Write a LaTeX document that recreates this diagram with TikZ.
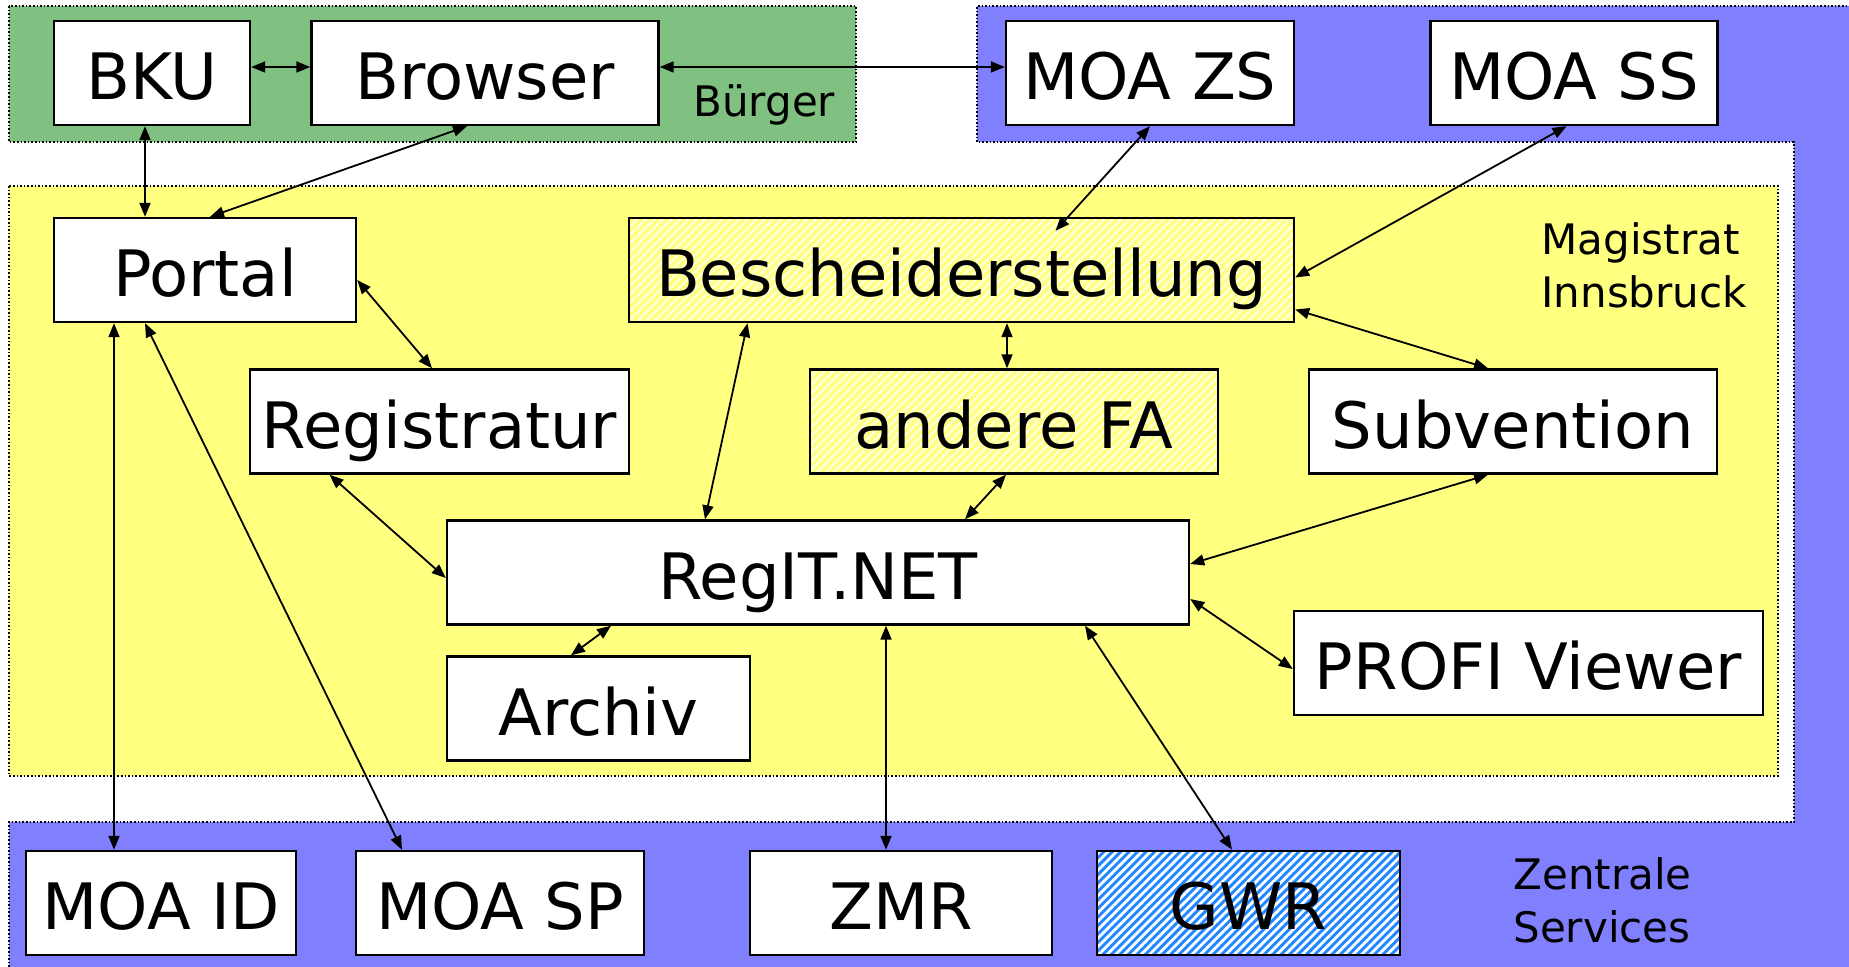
\documentclass[tikz,border=0pt]{standalone}
\usepackage{fontspec}
\setmainfont{DejaVu Sans}
\usetikzlibrary{arrows.meta,patterns.meta,calc}
\definecolor{gruen}{HTML}{80C080}
\definecolor{blau}{HTML}{8080FF}
\definecolor{gelb}{HTML}{FFFF80}
\definecolor{gwrblau}{HTML}{2288FF}
\definecolor{hellgelb}{HTML}{FFFFD8}
\begin{document}
\begin{tikzpicture}[x=0.5pt,y=-0.5pt,
 box/.style={draw=black,line width=1.2pt,inner sep=0pt,minimum height=52pt,font=\fontsize{32}{38}\selectfont,text height=26.9pt,text depth=0pt},
 wbox/.style={box,fill=white},
 region/.style={densely dotted,line width=0.8pt},
 lbl/.style={font=\fontsize{21}{26.5}\selectfont,inner sep=0pt},
 conn/.style={<->,line width=0.9pt,>={Triangle[length=7pt,width=5.5pt]}},
 hatchy/.style={preaction={fill=gelb},pattern={Lines[angle=45,distance=3pt,line width=1.2pt]},pattern color=hellgelb},
 hatchb/.style={preaction={fill=gwrblau},pattern={Lines[angle=45,distance=3pt,line width=1.4pt]},pattern color=white}
]
\useasboundingbox (0,0) rectangle (1849,967);
% regions
\fill[gruen] (9,6) rectangle (856,142);
\draw[region] (9,6) rectangle (856,142);
\fill[blau] (977,6) -- (1849,6) -- (1849,967) -- (9,967) -- (9,822) -- (1794,822) -- (1794,142) -- (977,142) -- cycle;
\draw[region] (9,967) -- (9,822) -- (1794,822) -- (1794,142) -- (977,142) -- (977,6) -- (1849,6);
\fill[gelb] (9,186) rectangle (1778,776);
\draw[region] (9,186) rectangle (1778,776);
% boxes
\node[wbox,minimum width=98pt] (bku) at (152,73) {BKU};
\node[wbox,minimum width=173.5pt] (browser) at (485,73) {Browser};
\node[wbox,minimum width=144pt] (moazs) at (1150,73) {MOA ZS};
\node[wbox,minimum width=143.5pt] (moass) at (1574,73) {MOA SS};
\node[wbox,minimum width=151pt] (portal) at (205,270) {Portal};
\node[box,hatchy,minimum width=332.5pt] (besch) at (961.5,270) {Bescheiderstellung};
\node[wbox,minimum width=189.5pt] (regis) at (439.5,421.5) {Registratur};
\node[box,hatchy,minimum width=204pt] (andere) at (1014,421.5) {andere FA};
\node[wbox,minimum width=204pt] (subv) at (1513,421.5) {Subvention};
\node[wbox,minimum width=371pt] (regit) at (818,572.5) {RegIT.NET};
\node[wbox,minimum width=151.5pt] (archiv) at (598.5,708.5) {Archiv};
\node[wbox,minimum width=234.5pt] (profi) at (1528.5,663) {PROFI Viewer};
\node[wbox,minimum width=135pt] (moaid) at (161,903) {MOA ID};
\node[wbox,minimum width=144pt] (moasp) at (500,903) {MOA SP};
\node[wbox,minimum width=151pt] (zmr) at (901,903) {ZMR};
\node[box,hatchb,minimum width=151.5pt] (gwr) at (1248.5,903) {GWR};
% labels
\node[lbl,anchor=base west] (buerger) at (693,117) {Bürger};
\node[lbl,anchor=north west,align=left] (magis) at (1541,222) {Magistrat\\Innsbruck};
\node[lbl,anchor=north west,align=left] (zentral) at (1513,857) {Zentrale\\Services};
% connectors
\draw[conn] ([yshift=3pt]bku.east) -- ([yshift=3pt]browser.west);
\draw[conn] ([yshift=3pt]browser.east) -- ([yshift=3pt]moazs.west);
\draw[conn] ([xshift=-3.5pt]bku.south) -- ([xshift=-3.5pt]bku.south |- portal.north);
\draw[conn] ([xshift=2.5pt]portal.north) -- ([xshift=-9pt]browser.south);
\draw[conn] ([xshift=-45.5pt]portal.south) -- ([xshift=-45.5pt]portal.south |- moaid.north);
\draw[conn] ([xshift=-30pt]portal.south) -- ([xshift=-49pt]moasp.north);
\draw[conn] ([yshift=-5pt]portal.east) -- ([xshift=-3.75pt]regis.north);
\draw[conn] ([xshift=-55pt]regis.south) -- ([yshift=-2.75pt]regit.west);
\draw[conn] ([xshift=-107pt]besch.south) -- ([xshift=-56.5pt]regit.north);
\draw[conn] ([xshift=47pt,yshift=-7pt]besch.north) -- (moazs.south);
\draw[conn] ([yshift=-3.75pt]besch.east) -- ([xshift=-3.75pt]moass.south);
\draw[conn] ([xshift=22.75pt]besch.south) -- ([xshift=22.75pt]besch.south |- andere.north);
\draw[conn] ([yshift=-19.75pt]besch.east) -- ([xshift=-12.5pt]subv.north);
\draw[conn] ([xshift=-4pt]andere.south) -- ([xshift=73.5pt]regit.north);
\draw[conn] ([xshift=-12.5pt]subv.south) -- ([yshift=4.25pt]regit.east);
\draw[conn] ([yshift=-13.25pt]regit.east) -- ([yshift=-3pt]profi.west);
\draw[conn] ([xshift=-103.5pt]regit.south) -- ([xshift=-13.75pt]archiv.north);
\draw[conn] ([xshift=34pt]regit.south) -- ([xshift=34pt]regit.south |- zmr.north);
\draw[conn] ([xshift=133.5pt]regit.south) -- ([xshift=-8.25pt]gwr.north);
\end{tikzpicture}
\end{document}
